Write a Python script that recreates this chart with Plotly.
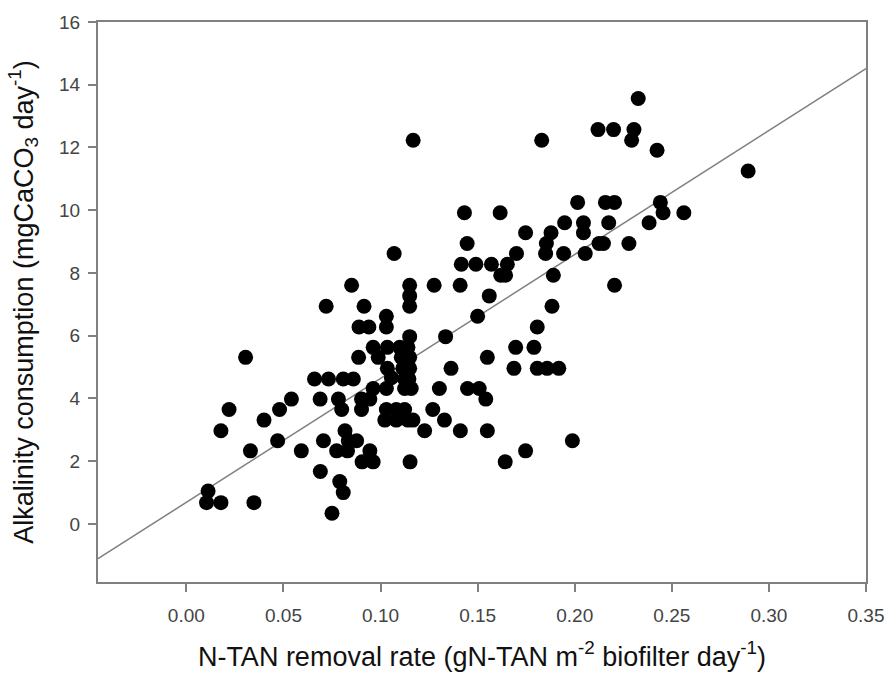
import plotly.graph_objects as go

# N-TAN removal rate (x) and alkalinity consumption (y)
removal_rate = [
    0.075,
    0.0104, 0.0178, 0.0348,
    0.0112, 0.0808,
    0.079,
    0.069,
    0.0905, 0.0962, 0.1152, 0.1642,
    0.0330, 0.0592, 0.0774, 0.0830, 0.0945, 0.1747,
    0.0470, 0.0706, 0.0834, 0.0877, 0.1988,
    0.0178, 0.0817, 0.1227, 0.1411, 0.155,
    0.0400, 0.1022, 0.1081, 0.1141, 0.1167, 0.1329,
    0.022, 0.048, 0.080, 0.0902, 0.103, 0.1081, 0.1124, 0.1269,
    0.0541, 0.0689, 0.0783, 0.0902, 0.0945, 0.1542,
    0.0962, 0.103, 0.1124, 0.1158, 0.1303, 0.1448, 0.1508,
    0.066, 0.0732, 0.0808, 0.086, 0.1056, 0.1124, 0.1146,
    0.1035, 0.1115, 0.115, 0.1363, 0.1687, 0.1807, 0.1858, 0.1918,
    0.0305, 0.0887, 0.0988, 0.1107, 0.115, 0.155,
    0.0962, 0.1035, 0.1099, 0.1141, 0.1696, 0.179,
    0.115, 0.1335,
    0.0889, 0.094, 0.103, 0.1807,
    0.103, 0.150,
    0.072, 0.0915, 0.115, 0.1883,
    0.115, 0.156,
    0.0851, 0.115, 0.1276, 0.141, 0.2205,
    0.1619, 0.1644, 0.189,
    0.1416, 0.1491, 0.1571, 0.1653,
    0.107, 0.170, 0.185, 0.1943, 0.2054,
    0.1446, 0.1854, 0.2125, 0.2148, 0.2279,
    0.1747, 0.1878, 0.2045,
    0.1948, 0.2045, 0.2175, 0.2383,
    0.1432, 0.1616, 0.2455, 0.2562,
    0.2015, 0.2158, 0.2205, 0.2441,
    0.2893,
    0.2424,
    0.1168, 0.1830, 0.2293,
    0.2120, 0.22, 0.2305,
    0.2327,
]
alkalinity = [
    0.34,
    0.68, 0.68, 0.68,
    1.05, 1.0,
    1.35,
    1.67,
    1.98, 1.98, 1.98, 1.98,
    2.33, 2.33, 2.33, 2.33, 2.33, 2.33,
    2.65, 2.65, 2.65, 2.65, 2.65,
    2.97, 2.97, 2.97, 2.97, 2.97,
    3.31, 3.31, 3.31, 3.31, 3.31, 3.31,
    3.65, 3.65, 3.65, 3.65, 3.65, 3.65, 3.65, 3.65,
    3.98, 3.98, 3.98, 3.98, 3.98, 3.98,
    4.32, 4.32, 4.32, 4.32, 4.32, 4.32, 4.32,
    4.62, 4.62, 4.62, 4.62, 4.66, 4.62, 4.62,
    4.96, 4.96, 4.96, 4.96, 4.96, 4.96, 4.96, 4.96,
    5.31, 5.31, 5.31, 5.31, 5.31, 5.31,
    5.63, 5.63, 5.63, 5.63, 5.63, 5.63,
    5.97, 5.97,
    6.28, 6.28, 6.28, 6.28,
    6.62, 6.62,
    6.94, 6.94, 6.94, 6.94,
    7.27, 7.27,
    7.61, 7.61, 7.61, 7.61, 7.61,
    7.93, 7.93, 7.93,
    8.28, 8.28, 8.28, 8.28,
    8.62, 8.62, 8.62, 8.62, 8.62,
    8.94, 8.94, 8.94, 8.94, 8.94,
    9.28, 9.28, 9.28,
    9.6, 9.6, 9.6, 9.6,
    9.92, 9.92, 9.92, 9.92,
    10.25, 10.25, 10.25, 10.25,
    11.25,
    11.91,
    12.23, 12.23, 12.23,
    12.57, 12.57, 12.57,
    13.56,
]

# linear regression line parameters
fit_intercept = 0.69
fit_slope = 39.5

x_range = [-0.0455, 0.35]
y_range = [-1.85, 16]
x_ticks = [0.00, 0.05, 0.10, 0.15, 0.20, 0.25, 0.30, 0.35]
x_tick_labels = ["0.00", "0.05", "0.10", "0.15", "0.20", "0.25", "0.30", "0.35"]
y_ticks = [0, 2, 4, 6, 8, 10, 12, 14, 16]
y_tick_labels = ["0", "2", "4", "6", "8", "10", "12", "14", "16"]

x_title = "N-TAN removal rate (gN-TAN m<sup>-2</sup> biofilter day<sup>-1</sup>)"
y_title = "Alkalinity consumption (mgCaCO<sub>3</sub> day<sup>-1</sup>)"

fit_x = x_range
fit_y = [fit_intercept + fit_slope * v for v in fit_x]

fig = go.Figure()
fig.add_trace(go.Scatter(
    x=fit_x, y=fit_y, mode="lines",
    line=dict(color="#7f7f7f", width=1.5),
    hoverinfo="skip", showlegend=False,
))
fig.add_trace(go.Scatter(
    x=removal_rate, y=alkalinity, mode="markers",
    marker=dict(color="black", size=15, line=dict(width=0)),
    showlegend=False,
))

font_family = "Liberation Sans, Arial, sans-serif"
axis_common = dict(
    showline=True, linecolor="#808080", linewidth=2, mirror=True,
    showgrid=False, zeroline=False,
    ticks="outside", ticklen=8, tickwidth=1.5, tickcolor="#808080",
    tickfont=dict(family=font_family, size=19, color="#444444"),
    title_font=dict(family=font_family, size=27, color="#111111"),
)

fig.update_layout(
    width=896, height=679,
    margin=dict(l=98, r=22, t=22, b=97),
    paper_bgcolor="white", plot_bgcolor="white",
    xaxis=dict(range=x_range, tickvals=x_ticks, ticktext=x_tick_labels,
               title=dict(text=x_title, standoff=22),
               ticklabelstandoff=7, **axis_common),
    yaxis=dict(range=y_range, tickvals=y_ticks, ticktext=y_tick_labels,
               title=dict(text=y_title, standoff=18),
               ticklabelstandoff=4, **axis_common),
)

fig.write_html("out.html")
